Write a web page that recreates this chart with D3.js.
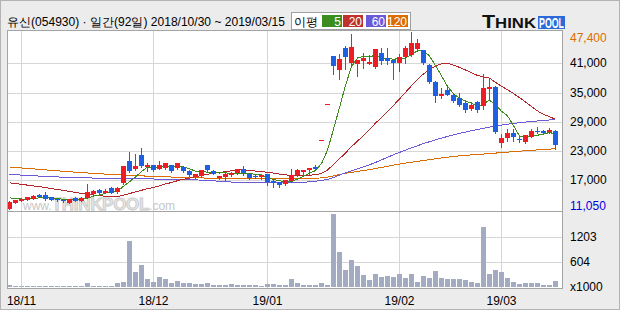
<!DOCTYPE html>
<html>
<head>
<meta charset="utf-8">
<script src="https://cdn.jsdelivr.net/npm/d3@7"></script>
<style>
  body { margin: 0; background: #ececec; }
  svg text { font-family: 'Liberation Sans', Arial, sans-serif; }
</style>
</head>
<body>
<svg id="chart" width="620" height="310"></svg>
<script>
// KRX trading days, 2018/10/30 ~ 2019/03/15 (92 days)
const tradingDays = [
  ['2018-10', [30, 31]],
  ['2018-11', [1, 2, 5, 6, 7, 8, 9, 12, 13, 14, 15, 16, 19, 20, 21, 22, 23, 26, 27, 28, 29, 30]],
  ['2018-12', [3, 4, 5, 6, 7, 10, 11, 12, 13, 14, 17, 18, 19, 20, 21, 24, 26, 27, 28]],
  ['2019-01', [2, 3, 4, 7, 8, 9, 10, 11, 14, 15, 16, 17, 18, 21, 22, 23, 24, 25, 28, 29, 30, 31]],
  ['2019-02', [1, 7, 8, 11, 12, 13, 14, 15, 18, 19, 20, 21, 22, 25, 26, 27, 28]],
  ['2019-03', [4, 5, 6, 7, 8, 11, 12, 13, 14, 15]]
];
const monthTicks = ['2018-11-01', '2018-12-03', '2019-01-02', '2019-02-01', '2019-03-04'];
const monthLabels = ['18/11', '18/12', '19/01', '19/02', '19/03'];

const priceTicks = [17000, 23000, 29000, 35000, 41000];
const priceHigh = 47400;
const priceLow = 11050;
const volumeTicks = [604, 1203];
const volumeMax = 1805;

// OHLC (won)
const openP = [11100, 12320, 12650, 12850, 13200, 13960, 13900, 13470, 13100, 12850,
  12380, 13350, 12730, 13350, 14030, 14920, 14500, 15420, 14450, 16300,
  20890, 19180, 22070, 19530, 20000, 19320, 19320, 20000, 19320, 19730,
  18830, 17470, 17800, 20000, 18830, 17330, 17600, 18000, 18300, 19180,
  18150, 17800, 17470, 18150, 16780, 16560, 16160, 16780, 17950, 18700,
  19030, 19730, 25200, 32750, 42550, 39640, 44100, 41020, 40950, 41490,
  40950, 40260, 43220, 42190, 41700, 41020, 42310, 42870, 44100, 43690,
  40600, 37250, 34430, 35460, 34490, 33950, 32920, 31540, 33050, 32100,
  35660, 36140, 24550, 25570, 26600, 25510, 24680, 25920, 27080, 27080,
  26740, 27080];
const highP = [12600, 12900, 13410, 13550, 13900, 14050, 14600, 13600, 13300, 13200,
  13200, 13450, 13500, 16100, 14900, 15100, 15100, 15500, 15500, 19900,
  22750, 22270, 23650, 20560, 20200, 20890, 20600, 20200, 20500, 19900,
  19000, 18300, 19100, 20200, 19000, 17900, 18800, 18700, 19300, 19900,
  18300, 18000, 18000, 18300, 17270, 16700, 17000, 19180, 19330, 19100,
  19400, 20070, 25200, 32750, 42550, 42870, 44580, 47000, 41800, 43220,
  42730, 44000, 44250, 44100, 41800, 42870, 44580, 47400, 45960, 43800,
  40800, 37300, 36010, 36480, 34980, 34980, 33130, 33130, 33200, 38750,
  37720, 36300, 26390, 27420, 27420, 25920, 26300, 27420, 27900, 27270,
  27770, 27270];
const lowP = [11050, 12250, 12600, 12800, 13150, 13500, 12800, 12800, 12750, 12500,
  12300, 12700, 12700, 13300, 13950, 14100, 14300, 14300, 14400, 16200,
  18700, 19000, 19700, 18830, 18900, 19200, 19200, 18700, 19200, 18700,
  17900, 17400, 17700, 18900, 18200, 17200, 17000, 17900, 18200, 18000,
  17200, 17400, 17300, 16090, 15620, 15620, 16000, 16700, 17900, 17800,
  18300, 19180, 25200, 32750, 38750, 37870, 39780, 40460, 38400, 40130,
  40800, 40130, 40810, 40810, 37870, 39430, 41160, 42520, 43550, 40800,
  36900, 33050, 33950, 34400, 33050, 32220, 30990, 31400, 30990, 31540,
  33600, 26700, 23780, 25010, 25010, 24900, 24600, 25800, 26600, 26600,
  26600, 23300];
const closeP = [12550, 12850, 13140, 13470, 13820, 13550, 13000, 12940, 12900, 12720,
  13140, 12800, 13350, 14500, 14710, 14240, 14850, 14390, 15340, 19860,
  18830, 19860, 19860, 20000, 19030, 20200, 20420, 18830, 20420, 18830,
  18000, 18150, 18980, 19030, 18300, 17800, 18300, 18500, 19180, 18300,
  17330, 17600, 17950, 16440, 16300, 15950, 16920, 17950, 18980, 19030,
  19390, 19390, 25200, 32750, 40460, 41840, 42190, 44380, 41700, 42190,
  41290, 43900, 41490, 41490, 41020, 42310, 44100, 45280, 45280, 40950,
  37000, 34280, 34780, 34490, 33250, 32430, 31400, 32370, 31340, 35870,
  36140, 26870, 25570, 26600, 25840, 25220, 26190, 27080, 26870, 26740,
  27220, 24130];
// volume (x1000 shares)
const volumes = [48, 24, 24, 24, 24, 24, 24, 24, 24, 24,
  24, 24, 24, 97, 24, 24, 24, 24, 97, 129,
  1111, 370, 531, 193, 129, 242, 193, 97, 145, 97,
  97, 72, 72, 97, 48, 48, 48, 72, 48, 48,
  48, 48, 24, 72, 72, 48, 48, 193, 97, 48,
  40, 40, 97, 40, 1755, 837, 403, 644, 499, 282,
  161, 306, 242, 258, 234, 306, 209, 306, 121, 258,
  209, 378, 209, 185, 185, 185, 161, 121, 97, 1450,
  306, 403, 354, 209, 121, 64, 89, 89, 89, 40,
  40, 137];

// moving averages: the first days need closes from before the window, so read them off the picture
const ma5Lead = [13350, 13200, 13100, 13050];
const ma20Lead = [16450, 16280, 16120, 15960, 15800, 15640, 15460, 15260, 15060, 14860,
  14660, 14460, 14270, 14090, 13930, 13790, 13660, 13560, 13560];
const ma60Idx = [0, 10, 20, 32, 40, 47, 51, 53, 56, 60, 65, 70, 74, 80, 85, 91];
const ma60Val = [18160, 17540, 17300, 16990, 16450, 16450, 16780, 17130, 18500, 20150,
  22700, 24900, 26300, 27900, 28800, 29450];
const ma120Idx = [0, 15, 32, 42, 48, 52, 56, 60, 65, 70, 74, 80, 85, 91];
const ma120Val = [19700, 18300, 17440, 17230, 17250, 17450, 18400, 19150, 20300, 21200,
  21850, 22450, 22950, 23450];

const colors = {
  up: '#ee1c24', down: '#1f5fe2', volume: '#a3abc3',
  ma5: '#3c8c1e', ma20: '#b4262a', ma60: '#6a5ad8', ma120: '#dc6c00',
  grid: '#d6d6d6', frame: '#a4a4a4'
};

const dates = tradingDays.flatMap(([m, ds]) => ds.map(d => `${m}-${String(d).padStart(2, '0')}`));
const candles = dates.map((date, i) => ({
  date, open: openP[i], high: highP[i], low: lowP[i], close: closeP[i], volume: volumes[i]
}));

function movingAvg(period, lead) {
  return closeP.map((c, i) => (i < lead.length ? lead[i] : d3.mean(closeP.slice(i - period + 1, i + 1))));
}
const ma5 = movingAvg(5, ma5Lead);
const ma20 = movingAvg(20, ma20Lead);

const plot = { left: 7.5, right: 562.5, top: 30, mid: 211, bottom: 288.5 };

const svg = d3.select('#chart');

// background and frames
svg.append('rect').attr('x', 0.5).attr('y', 0.5).attr('width', 619).attr('height', 309)
  .attr('fill', '#ececec').attr('stroke', '#b4b4b4');
svg.append('rect').attr('x', plot.left).attr('y', plot.top)
  .attr('width', plot.right - plot.left).attr('height', plot.bottom - plot.top)
  .attr('fill', '#fff');

const x = d3.scaleBand().domain(dates).range([6.3, 558.3]);
const cx = d => Math.round(x(d) + x.bandwidth() / 2) + 0.5;
const y = d3.scaleLinear().domain([priceLow, priceHigh]).range([209, 32.3]);
const v = d3.scaleLinear().domain([0, volumeMax]).range([287, 212]);

// grid
const grid = svg.append('g').attr('stroke', colors.grid).attr('shape-rendering', 'crispEdges');
grid.selectAll('.hp').data(priceTicks).enter().append('line')
  .attr('x1', plot.left).attr('x2', plot.right)
  .attr('y1', d => Math.round(y(d)) + 0.5).attr('y2', d => Math.round(y(d)) + 0.5);
grid.selectAll('.hv').data(volumeTicks).enter().append('line')
  .attr('x1', plot.left).attr('x2', plot.right)
  .attr('y1', d => Math.round(v(d)) + 0.5).attr('y2', d => Math.round(v(d)) + 0.5);
grid.selectAll('.vx').data(monthTicks).enter().append('line')
  .attr('x1', d => cx(d)).attr('x2', d => cx(d))
  .attr('y1', plot.top).attr('y2', plot.bottom);

// watermark
const wm = svg.append('text').attr('x', 23).attr('y', 210).attr('font-weight', 'bold');
wm.append('tspan').attr('font-size', 12).attr('font-weight', 'normal').attr('fill', '#c6c6c6').text('www.');
wm.append('tspan').attr('font-size', 17).attr('fill', '#e6e6e6').attr('stroke', '#c8c8c8')
  .attr('stroke-width', 0.8).attr('letter-spacing', -0.3).text('THINKPOOL');
wm.append('tspan').attr('font-size', 12).attr('font-weight', 'normal').attr('fill', '#c6c6c6').text('.com');

// moving average lines (aliased, like the original)
const maLine = d3.line().x(d => cx(dates[d[0]])).y(d => y(d[1]));
const maSmooth = d3.line().x(d => cx(dates[d[0]])).y(d => y(d[1])).curve(d3.curveMonotoneX);
const lines = svg.append('g').attr('fill', 'none').attr('stroke-width', 1)
  .attr('shape-rendering', 'crispEdges');
lines.append('path').attr('d', maSmooth(ma120Idx.map((i, k) => [i, ma120Val[k]]))).attr('stroke', colors.ma120);
lines.append('path').attr('d', maSmooth(ma60Idx.map((i, k) => [i, ma60Val[k]]))).attr('stroke', colors.ma60);
lines.append('path').attr('d', maLine(ma20.map((m, i) => [i, m]))).attr('stroke', colors.ma20);
lines.append('path').attr('d', maLine(ma5.map((m, i) => [i, m]))).attr('stroke', colors.ma5);

// candles
const cg = svg.append('g').attr('shape-rendering', 'crispEdges');
const candle = cg.selectAll('.candle').data(candles).enter().append('g');
const col = d => (d.close >= d.open ? colors.up : colors.down);
candle.append('line')
  .attr('x1', d => cx(d.date)).attr('x2', d => cx(d.date))
  .attr('y1', d => Math.round(y(d.high))).attr('y2', d => Math.round(y(d.low)) + 1)
  .attr('stroke', col);
candle.append('rect')
  .attr('x', d => cx(d.date) - 2.5)
  .attr('y', d => Math.round(y(Math.max(d.open, d.close))))
  .attr('width', 5)
  .attr('height', d => Math.max(1, Math.round(Math.abs(y(d.open) - y(d.close)))))
  .attr('fill', col);

// volume bars
svg.append('g').attr('shape-rendering', 'crispEdges')
  .selectAll('rect').data(candles).enter().append('rect')
  .attr('x', d => cx(d.date) - 2.5)
  .attr('y', d => Math.round(v(d.volume)))
  .attr('width', 5)
  .attr('height', d => Math.max(1, 287 - Math.round(v(d.volume))))
  .attr('fill', colors.volume);

// panel frames
const frame = svg.append('g').attr('fill', 'none').attr('stroke', colors.frame).attr('shape-rendering', 'crispEdges');
frame.append('rect').attr('x', plot.left).attr('y', plot.top)
  .attr('width', plot.right - plot.left).attr('height', plot.bottom - plot.top);
frame.append('line').attr('x1', plot.left).attr('x2', plot.right).attr('y1', plot.mid + 0.5).attr('y2', plot.mid + 0.5);

// right axis labels
const fmt = d3.format(',');
const rl = svg.append('g').attr('font-size', 12).attr('dominant-baseline', 'central');
rl.selectAll('.pt').data(priceTicks).enter().append('text')
  .attr('x', 570).attr('y', d => y(d)).text(d => fmt(d));
rl.append('text').attr('x', 570).attr('y', y(priceHigh) + 6).attr('fill', '#dc6c00').text(fmt(priceHigh));
rl.append('text').attr('x', 570).attr('y', y(priceLow) - 3).attr('fill', '#0000e0').text(fmt(priceLow));
rl.selectAll('.vt').data(volumeTicks).enter().append('text')
  .attr('x', 570).attr('y', d => v(d)).text(d => d);
rl.append('text').attr('x', 570).attr('y', v(0)).text('x1000');

// month labels
svg.append('g').attr('font-size', 12).attr('text-anchor', 'middle')
  .selectAll('text').data(monthTicks).enter().append('text')
  .attr('x', d => cx(d)).attr('y', 305).text((d, i) => monthLabels[i]);

// header
svg.append('text').attr('x', 7).attr('y', 26)
  .attr('font-family', "'Noto Sans CJK KR', sans-serif").attr('font-size', 12)
  .attr('textLength', 278).attr('lengthAdjust', 'spacingAndGlyphs')
  .text('유신(054930) · 일간(92일) 2018/10/30 ~ 2019/03/15');

// MA legend
const legend = svg.append('g');
legend.append('rect').attr('x', 291.5).attr('y', 12.5).attr('width', 119).attr('height', 17)
  .attr('fill', '#fff').attr('stroke', '#a0a0a0');
legend.append('text').attr('x', 294).attr('y', 25.5)
  .attr('font-family', "'Noto Sans CJK KR', sans-serif").attr('font-size', 12).text('이평');
const maKeys = [['5', colors.ma5], ['20', '#c0302c'], ['60', colors.ma60], ['120', colors.ma120]];
const lx = [322, 343, 366, 388];
const lw = [20, 20, 20, 20];
maKeys.forEach(([label, c], k) => {
  legend.append('rect').attr('x', lx[k]).attr('y', 15).attr('width', lw[k]).attr('height', 12).attr('fill', c);
  legend.append('text').attr('x', lx[k] + lw[k] - 1).attr('y', 25.5).attr('text-anchor', 'end')
    .attr('font-size', 12).attr('fill', '#fff').text(label);
});

// THINKPOOL logo
const logo = svg.append('g').attr('font-weight', 'bold');
const think = logo.append('text').attr('x', 482).attr('y', 28).attr('fill', '#111')
  .attr('textLength', 54).attr('lengthAdjust', 'spacingAndGlyphs');
think.append('tspan').attr('font-size', 18).text('T');
think.append('tspan').attr('font-size', 14).text('HINK');
logo.append('rect').attr('x', 538).attr('y', 16).attr('width', 27).attr('height', 13).attr('fill', '#2b6bd9');
logo.append('text').attr('x', 539).attr('y', 27.5).attr('font-size', 14).attr('fill', '#fff')
  .attr('textLength', 25).attr('lengthAdjust', 'spacingAndGlyphs').text('POOL');
</script>
</body>
</html>
